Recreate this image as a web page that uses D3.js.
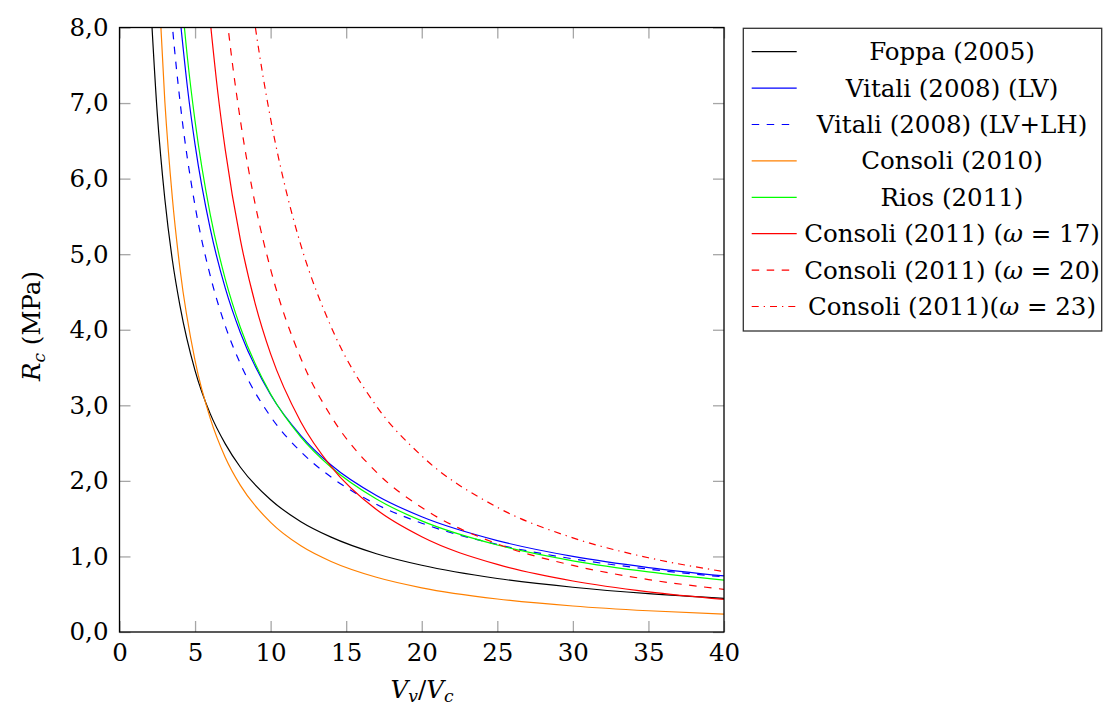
<!DOCTYPE html>
<html>
<head>
<meta charset="utf-8">
<script src="https://cdn.jsdelivr.net/npm/d3@7"></script>
<style>
  html, body { margin: 0; padding: 0; background: #fff; }
  svg { display: block; }
  text { font-family: "DejaVu Serif", serif; fill: #000; }
</style>
</head>
<body>
<svg id="chart" width="1104" height="708"></svg>
<script>
// ---------- data ----------
const xTickValues = [0, 5, 10, 15, 20, 25, 30, 35, 40];
const xTickLabels = ["0", "5", "10", "15", "20", "25", "30", "35", "40"];
const yTickValues = [0, 1, 2, 3, 4, 5, 6, 7, 8];
const yTickLabels = ["0,0", "1,0", "2,0", "3,0", "4,0", "5,0", "6,0", "7,0", "8,0"];

const seriesNames = [
  "Foppa (2005)", "Vitali (2008) (LV)", "Vitali (2008) (LV+LH)", "Consoli (2010)",
  "Rios (2011)", "Consoli (2011) (ω = 17)", "Consoli (2011) (ω = 20)", "Consoli (2011)(ω = 23)"
];

const foppaX = [2, 2.5, 3, 3.5, 4, 5, 6, 7, 8, 10, 12, 14, 17, 20, 25, 30, 35, 40];
const foppaY = [8.55, 6.86, 5.73, 4.92, 4.32, 3.46, 2.89, 2.49, 2.18, 1.75, 1.46, 1.255, 1.036, 0.883, 0.708, 0.592, 0.508, 0.446];

const vitaliLvX = [4, 4.5, 5, 6, 7, 8, 10, 12, 14, 17, 20, 25, 30, 35, 40];
const vitaliLvY = [8.14, 7.20, 6.45, 5.34, 4.55, 3.96, 3.14, 2.60, 2.21, 1.807, 1.525, 1.21, 1.00, 0.853, 0.742];

const vitaliLvLhX = [3, 3.5, 4, 5, 6, 7, 8, 10, 12, 14, 17, 20, 25, 30, 35, 40];
const vitaliLvLhY = [9.33, 8.02, 7.03, 5.64, 4.72, 4.05, 3.55, 2.85, 2.385, 2.05, 1.69, 1.44, 1.158, 0.968, 0.832, 0.729];

const consoli2010X = [2.5, 3, 3.5, 4, 5, 6, 7, 8, 10, 12, 14, 17, 20, 25, 30, 35, 40];
const consoli2010Y = [8.91, 7.02, 5.74, 4.81, 3.59, 2.83, 2.31, 1.94, 1.45, 1.14, 0.933, 0.724, 0.585, 0.437, 0.344, 0.281, 0.236];

const riosX = [4, 4.5, 5, 6, 7, 8, 10, 12, 14, 17, 20, 25, 30, 35, 40];
const riosY = [8.64, 7.59, 6.76, 5.53, 4.67, 4.03, 3.15, 2.58, 2.18, 1.76, 1.47, 1.151, 0.942, 0.795, 0.686];

const consoli17X = [6, 6.5, 7, 8, 9, 10, 12, 14, 17, 20, 25, 30, 35, 40];
const consoli17Y = [8.09, 7.15, 6.38, 5.19, 4.33, 3.68, 2.78, 2.19, 1.62, 1.26, 0.894, 0.675, 0.532, 0.433];

const consoli20X = [7, 7.5, 8, 9, 10, 12, 14, 17, 20, 25, 30, 35, 40];
const consoli20Y = [8.32, 7.48, 6.77, 5.64, 4.80, 3.62, 2.855, 2.116, 1.647, 1.166, 0.881, 0.694, 0.565];

const consoli23X = [8.5, 9, 10, 11, 12, 14, 17, 20, 25, 30, 35, 40];
const consoli23Y = [8.72, 7.99, 6.79, 5.86, 5.12, 4.04, 2.99, 2.33, 1.65, 1.246, 0.983, 0.799];

// ---------- styles ----------
const seriesStyles = [
  { color: "#000000", dash: null },
  { color: "#0000ff", dash: null },
  { color: "#0000ff", dash: "7.5,7.5" },
  { color: "#ff8000", dash: null },
  { color: "#00ff00", dash: null },
  { color: "#ff0000", dash: null },
  { color: "#ff0000", dash: "7.5,7.5" },
  { color: "#ff0000", dash: "7,5,1.3,5" }
];
const seriesData = [
  [foppaX, foppaY], [vitaliLvX, vitaliLvY], [vitaliLvLhX, vitaliLvLhY], [consoli2010X, consoli2010Y],
  [riosX, riosY], [consoli17X, consoli17Y], [consoli20X, consoli20Y], [consoli23X, consoli23Y]
];

// ---------- layout ----------
const L = 119.5, R = 724, T = 27.5, B = 632;
const FS = 24.5;
const svg = d3.select("#chart");
const x = d3.scaleLinear().domain([0, 40]).range([L, R]);
const y = d3.scaleLinear().domain([0, 8]).range([B, T]);

svg.append("defs").append("clipPath").attr("id", "plotclip")
  .append("rect").attr("x", L).attr("y", T).attr("width", R - L).attr("height", B - T);

// ticks (inward, grey) on all four sides
const tickColor = "#a6a6a6";
const tickLen = 11;
function styleAxis(g) {
  g.select(".domain").remove();
  g.selectAll(".tick line").attr("stroke", tickColor).attr("stroke-width", 1.3);
  g.selectAll(".tick text").attr("font-size", FS).attr("font-family", "DejaVu Serif").attr("fill", "#000");
}
svg.append("g").attr("transform", `translate(0,${B})`)
  .call(d3.axisBottom(x).tickValues(xTickValues).tickSize(-tickLen).tickPadding(12)
    .tickFormat((d, i) => xTickLabels[i]))
  .call(styleAxis);
svg.append("g").attr("transform", `translate(0,${T})`)
  .call(d3.axisTop(x).tickValues(xTickValues).tickSize(-tickLen).tickFormat(""))
  .call(styleAxis);
svg.append("g").attr("transform", `translate(${L},0)`)
  .call(d3.axisLeft(y).tickValues(yTickValues).tickSize(-tickLen).tickPadding(11)
    .tickFormat((d, i) => yTickLabels[i]))
  .call(styleAxis);
svg.append("g").attr("transform", `translate(${R},0)`)
  .call(d3.axisRight(y).tickValues(yTickValues).tickSize(-tickLen).tickFormat(""))
  .call(styleAxis);

// curves
const line = d3.line().x(d => x(d[0])).y(d => y(d[1])).curve(d3.curveMonotoneX);
const curvesG = svg.append("g").attr("clip-path", "url(#plotclip)");
seriesData.forEach((s, i) => {
  const pts = s[0].map((xv, j) => [xv, s[1][j]]);
  curvesG.append("path").datum(pts)
    .attr("d", line)
    .attr("fill", "none")
    .attr("stroke", seriesStyles[i].color)
    .attr("stroke-width", 1.2)
    .attr("stroke-dasharray", seriesStyles[i].dash);
});

// frame
svg.append("rect").attr("x", L).attr("y", T).attr("width", R - L).attr("height", B - T)
  .attr("fill", "none").attr("stroke", "#000").attr("stroke-width", 1.3);

// axis labels
const xl = svg.append("text").attr("x", 422).attr("y", 698).attr("text-anchor", "middle").attr("font-size", FS);
xl.append("tspan").attr("font-style", "italic").text("V");
xl.append("tspan").attr("font-style", "italic").attr("font-size", FS * 0.7).attr("dy", 4).text("v");
xl.append("tspan").attr("dy", -4).text("/");
xl.append("tspan").attr("font-style", "italic").text("V");
xl.append("tspan").attr("font-style", "italic").attr("font-size", FS * 0.7).attr("dy", 4).text("c");

const yl = svg.append("text").attr("transform", "translate(40,326) rotate(-90)")
  .attr("text-anchor", "middle").attr("font-size", FS);
yl.append("tspan").attr("font-style", "italic").text("R");
yl.append("tspan").attr("font-style", "italic").attr("font-size", FS * 0.7).attr("dy", 5).text("c");
yl.append("tspan").attr("dy", -5).text(" (MPa)");

// legend
const lg = svg.append("g");
lg.append("rect").attr("x", 743.3).attr("y", 28.3).attr("width", 358.4).attr("height", 302.7)
  .attr("fill", "#fff").attr("stroke", "#333").attr("stroke-width", 1.3);
const rowY0 = 51.7, rowStep = 36.4;
seriesNames.forEach((name, i) => {
  const cy = rowY0 + i * rowStep;
  lg.append("line").attr("x1", 751.7).attr("x2", 796.7).attr("y1", cy).attr("y2", cy)
    .attr("stroke", seriesStyles[i].color).attr("stroke-width", 1.2)
    .attr("stroke-dasharray", seriesStyles[i].dash);
  const t = lg.append("text").attr("x", 952).attr("y", cy + 8.5).attr("text-anchor", "middle").attr("font-size", FS);
  const parts = name.split("ω");
  parts.forEach((p, k) => {
    if (k > 0) t.append("tspan").attr("font-style", "italic").text("ω");
    t.append("tspan").text(p);
  });
});
</script>
</body>
</html>
